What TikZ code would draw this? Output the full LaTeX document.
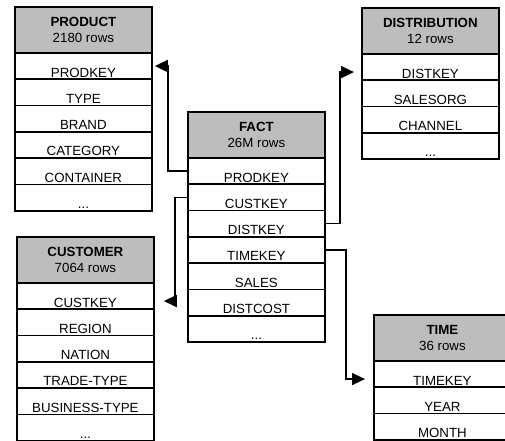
\documentclass[tikz,border=0pt]{standalone}
\usepackage{fontspec}
\setmainfont{Liberation Sans}
\usetikzlibrary{arrows.meta}

\begin{document}
\begin{tikzpicture}[x=1pt,y=-1pt]
  % Local definitions
  \def\tabw{137}
  \def\headh{46}
  \def\rowh{26.3}
  \def\more{...}

  % Key Colors
  \colorlet{headcolor}{black!26}
  \colorlet{linkcolor}{black}

  % Styles
  \tikzstyle{table head}=[draw,line width=1.8pt,fill=headcolor,anchor=north west,
    minimum width=\tabw pt,minimum height=\headh pt,inner sep=0pt,align=center,
    font=\fontsize{13.3}{16}\selectfont]
  \tikzstyle{table row}=[draw,line width=1.8pt,fill=white,anchor=north west,
    minimum width=\tabw pt,minimum height=\rowh pt,inner sep=0pt,
    text height=22pt,text depth=0pt,font=\fontsize{13.3}{15}\selectfont]
  \tikzstyle{link}=[color=linkcolor,line width=1.6pt,-{Triangle[length=13pt,width=12pt]}]

  \useasboundingbox (0,0) rectangle (505,440);
  \clip (0,0) rectangle (505,440);

  % The tables
  \node[table head] (prod) at (14,6) {\textbf{PRODUCT}\\2180 rows};
  \foreach \txt [count=\i] in {PRODKEY,TYPE,BRAND,CATEGORY,CONTAINER,\more}
    \node[table row] (prod\i) at (14,{6+\headh+(\i-1)*\rowh}) {\txt};

  \node[table head] (fact) at (187,111) {\textbf{FACT}\\26M rows};
  \foreach \txt [count=\i] in {PRODKEY,CUSTKEY,DISTKEY,TIMEKEY,SALES,DISTCOST,\more}
    \node[table row] (fact\i) at (187,{111+\headh+(\i-1)*\rowh}) {\txt};

  \node[table head] (dist) at (361,7) {\textbf{DISTRIBUTION}\\12 rows};
  \foreach \txt [count=\i] in {DISTKEY,SALESORG,CHANNEL,\more}
    \node[table row] (dist\i) at (361,{7+\headh+(\i-1)*\rowh}) {\txt};

  \node[table head] (cust) at (16,236) {\textbf{CUSTOMER}\\7064 rows};
  \foreach \txt [count=\i] in {CUSTKEY,REGION,NATION,TRADE-TYPE,BUSINESS-TYPE,\more}
    \node[table row] (cust\i) at (16,{236+\headh+(\i-1)*\rowh}) {\txt};

  \node[table head] (time) at (373,314) {\textbf{TIME}\\36 rows};
  \foreach \txt [count=\i] in {TIMEKEY,YEAR,MONTH}
    \node[table row] (time\i) at (373,{314+\headh+(\i-1)*\rowh}) {\txt};

  % Keys
  \draw[link,shorten >=2pt] (fact1.west) -- ++(-19,0) |- (prod1.east);
  \draw[link,shorten >=9pt] (fact2.west) -- ++(-12,0) |- ([yshift=-5pt]cust1.east);
  \draw[link,shorten >=7pt] (fact3.east) -- ++(14,0) |- ([yshift=-5pt]dist1.west);
  \draw[link,shorten >=8pt] (fact4.east) -- ++(20,0) |- ([yshift=-5pt]time1.west);

\end{tikzpicture}
\end{document}
